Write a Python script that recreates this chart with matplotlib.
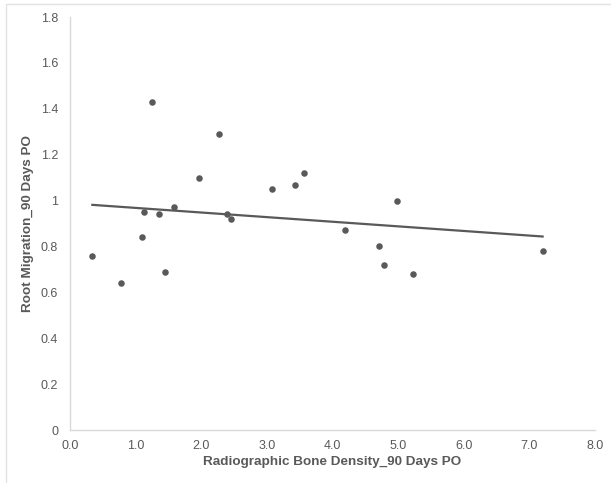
import numpy as np
import matplotlib.pyplot as plt
from matplotlib.patches import Rectangle

plt.rcParams['font.family'] = ['Liberation Sans', 'DejaVu Sans']

# values
bone_density = [0.34, 0.78, 1.09, 1.13, 1.25, 1.36, 1.45, 1.59, 1.96, 2.27,
                2.39, 2.45, 3.08, 3.43, 3.57, 4.19, 4.70, 4.78, 4.98, 5.22, 7.20]
root_migration = [0.76, 0.64, 0.84, 0.95, 1.43, 0.94, 0.69, 0.97, 1.10, 1.29,
                  0.94, 0.92, 1.05, 1.07, 1.12, 0.87, 0.80, 0.72, 1.00, 0.68, 0.78]
x_ticks = [0.0, 1.0, 2.0, 3.0, 4.0, 5.0, 6.0, 7.0, 8.0]
y_ticks = [0, 0.2, 0.4, 0.6, 0.8, 1.0, 1.2, 1.4, 1.6, 1.8]

grey = '#595959'
axis_grey = '#d9d9d9'

fig = plt.figure(figsize=(6.11, 4.83), dpi=100)
ax = fig.add_axes([0.1146, 0.1097, 0.8594, 0.8551])

x = np.array(bone_density)
y = np.array(root_migration)
ax.scatter(x, y, s=22, color=grey, zorder=3, linewidths=0)

# linear trendline over the data range
slope, icpt = np.polyfit(x, y, 1)
xs = np.array([x.min(), x.max()])
ax.plot(xs, slope * xs + icpt, color=grey, linewidth=1.6, zorder=2)

ax.set_xlim(0, 8)
ax.set_ylim(0, 1.8)
ax.set_xticks(x_ticks)
ax.set_xticklabels(['%.1f' % t for t in x_ticks])
ax.set_yticks(y_ticks)
ax.set_yticklabels([('%g' % t) for t in y_ticks])
ax.tick_params(length=0, labelsize=9, labelcolor=grey)
ax.tick_params(axis='x', pad=7)
ax.tick_params(axis='y', pad=8.5)

for s in ['top', 'right']:
    ax.spines[s].set_visible(False)
for s in ['left', 'bottom']:
    ax.spines[s].set_color(axis_grey)
    ax.spines[s].set_linewidth(1)

ax.set_xlabel('Radiographic Bone Density_90 Days PO', fontsize=9.7,
              fontweight='bold', color=grey, labelpad=3)
ax.set_ylabel('Root Migration_90 Days PO', fontsize=9.7,
              fontweight='bold', color=grey, labelpad=5)

# faint border of the chart area
fig.patches.append(Rectangle((6 / 611, -0.1), 1.2, 0.1 + 479 / 483,
                             transform=fig.transFigure, fill=False,
                             edgecolor='#e3e3e3', linewidth=1))

fig.savefig('out.png', dpi=100)
